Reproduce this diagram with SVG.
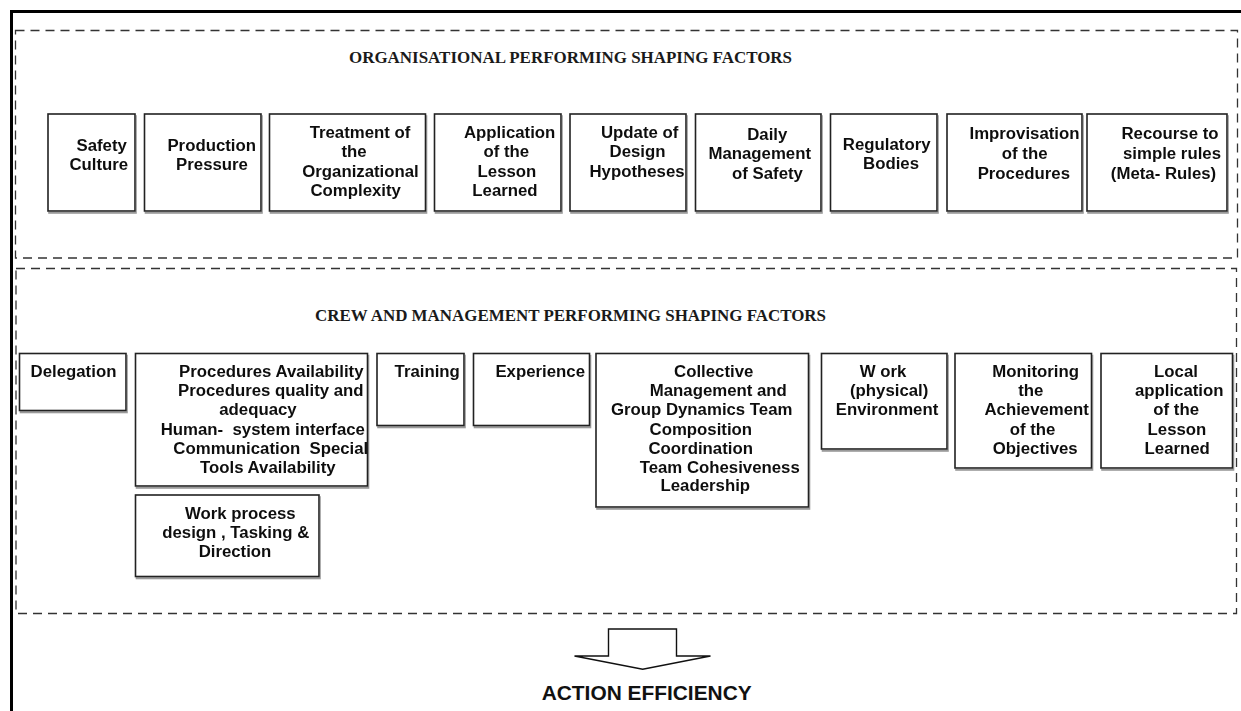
<svg xmlns="http://www.w3.org/2000/svg" width="1241" height="711" viewBox="0 0 1241 711">
<style>
.bg{fill:#fff}
.frame{fill:none;stroke:#000;stroke-width:3}
.dash{fill:none;stroke:#333;stroke-width:1.3;stroke-dasharray:9 6}
.box{fill:#fff;stroke:#222;stroke-width:1.6}
.t{font-family:"Liberation Sans",Arial,sans-serif;font-weight:bold;font-size:16.8px;fill:#111;text-anchor:middle}
.title{font-family:"Liberation Serif","Times New Roman",serif;font-weight:bold;font-size:17.5px;fill:#1a1a1a}
.out{font-family:"Liberation Sans",Arial,sans-serif;font-weight:bold;font-size:21px;fill:#111}
.arrow{fill:#fff;stroke:#111;stroke-width:1.4;stroke-linejoin:miter}
</style>
<defs>
<filter id="ds" x="-5%" y="-5%" width="110%" height="115%">
<feOffset dx="1" dy="2" in="SourceAlpha" result="o"/>
<feFlood flood-color="#9a9a9a"/>
<feComposite in2="o" operator="in" result="s"/>
<feMerge><feMergeNode in="s"/><feMergeNode in="SourceGraphic"/></feMerge>
</filter>
</defs>
<rect class="bg" x="0" y="0" width="1241" height="711"/>
<path class="frame" d="M11.5,711 V11.5 H1241"/>

<g id="org-group">
<rect class="dash" x="15.5" y="30.5" width="1222" height="227.5"/>
<text class="title" x="349" y="62.5" textLength="443" lengthAdjust="spacingAndGlyphs">ORGANISATIONAL PERFORMING SHAPING FACTORS</text>
</g>

<g id="crew-group">
<rect class="dash" x="16" y="268.5" width="1220.5" height="345"/>
<text class="title" x="315" y="321" textLength="511" lengthAdjust="spacingAndGlyphs">CREW AND MANAGEMENT PERFORMING SHAPING FACTORS</text>
</g>

<g id="n-safety" filter="url(#ds)">
<rect class="box" x="48" y="114" width="87" height="97"/>
<text class="t"><tspan x="101.7" y="150.7">Safety</tspan><tspan x="98.8" y="170">Culture</tspan></text>
</g>
<g id="n-production" filter="url(#ds)">
<rect class="box" x="144.5" y="114" width="116.5" height="97"/>
<text class="t"><tspan x="211.7" y="150.7">Production</tspan><tspan x="212" y="170">Pressure</tspan></text>
</g>
<g id="n-treatment" filter="url(#ds)">
<rect class="box" x="269.5" y="114" width="156" height="97"/>
<text class="t"><tspan x="360" y="137.7">Treatment of</tspan><tspan x="354" y="156.7">the</tspan><tspan x="360.5" y="176.7">Organizational</tspan><tspan x="355.7" y="196">Complexity</tspan></text>
</g>
<g id="n-application" filter="url(#ds)">
<rect class="box" x="434.5" y="114" width="126.5" height="97"/>
<text class="t"><tspan x="509.7" y="137.7">Application</tspan><tspan x="506.3" y="156.7">of the</tspan><tspan x="507" y="176.7">Lesson</tspan><tspan x="505" y="196">Learned</tspan></text>
</g>
<g id="n-update" filter="url(#ds)">
<rect class="box" x="570" y="114" width="116" height="97"/>
<text class="t"><tspan x="639.7" y="137.7">Update of</tspan><tspan x="637.5" y="156.7">Design</tspan><tspan x="637" y="176.7">Hypotheses</tspan></text>
</g>
<g id="n-daily" filter="url(#ds)">
<rect class="box" x="695.5" y="114" width="125.5" height="97"/>
<text class="t"><tspan x="767.3" y="140">Daily</tspan><tspan x="759.7" y="159.3">Management</tspan><tspan x="767.5" y="179.3">of Safety</tspan></text>
</g>
<g id="n-regulatory" filter="url(#ds)">
<rect class="box" x="830.5" y="114" width="106.5" height="97"/>
<text class="t"><tspan x="886.7" y="150">Regulatory</tspan><tspan x="891" y="169.3">Bodies</tspan></text>
</g>
<g id="n-improvisation" filter="url(#ds)">
<rect class="box" x="947" y="114" width="135" height="97"/>
<text class="t"><tspan x="1024.5" y="139.3">Improvisation</tspan><tspan x="1024.7" y="159.3">of the</tspan><tspan x="1023.8" y="179.3">Procedures</tspan></text>
</g>
<g id="n-recourse" filter="url(#ds)">
<rect class="box" x="1087" y="114" width="140" height="97"/>
<text class="t"><tspan x="1170" y="139.3">Recourse to</tspan><tspan x="1172" y="159.3">simple rules</tspan><tspan x="1163.5" y="179.3">(Meta- Rules)</tspan></text>
</g>

<g id="n-delegation" filter="url(#ds)">
<rect class="box" x="19.5" y="353.5" width="106.5" height="57"/>
<text class="t"><tspan x="73.5" y="376.7">Delegation</tspan></text>
</g>
<g id="n-procedures" filter="url(#ds)">
<rect class="box" x="135.5" y="353.5" width="232" height="132.5"/>
<text class="t" xml:space="preserve"><tspan x="271.3" y="376.7">Procedures Availability</tspan><tspan x="270.8" y="396">Procedures quality and</tspan><tspan x="258" y="415">adequacy</tspan><tspan x="262.8" y="435">Human-  system interface</tspan><tspan x="270.8" y="454">Communication  Special</tspan><tspan x="267.8" y="473.3">Tools Availability</tspan></text>
</g>
<g id="n-workprocess" filter="url(#ds)">
<rect class="box" x="135.5" y="495" width="183.5" height="81.5"/>
<text class="t"><tspan x="240.3" y="519">Work process</tspan><tspan x="235.8" y="538.3">design , Tasking &amp;</tspan><tspan x="235" y="557.3">Direction</tspan></text>
</g>
<g id="n-training" filter="url(#ds)">
<rect class="box" x="377" y="353.5" width="87" height="72"/>
<text class="t"><tspan x="427.2" y="376.7">Training</tspan></text>
</g>
<g id="n-experience" filter="url(#ds)">
<rect class="box" x="473.5" y="353.5" width="116" height="72"/>
<text class="t"><tspan x="540.2" y="376.7">Experience</tspan></text>
</g>
<g id="n-collective" filter="url(#ds)">
<rect class="box" x="596" y="353.5" width="212.5" height="153.5"/>
<text class="t"><tspan x="713.7" y="376.7">Collective</tspan><tspan x="718.3" y="396">Management and</tspan><tspan x="701.7" y="415">Group Dynamics Team</tspan><tspan x="700.8" y="435">Composition</tspan><tspan x="700.7" y="454">Coordination</tspan><tspan x="719.7" y="473.3">Team Cohesiveness</tspan><tspan x="705.3" y="490.7">Leadership</tspan></text>
</g>
<g id="n-work-env" filter="url(#ds)">
<rect class="box" x="821.5" y="353.5" width="125.5" height="95.5"/>
<text class="t"><tspan x="883" y="376.7">W ork</tspan><tspan x="889.2" y="396">(physical)</tspan><tspan x="887" y="415">Environment</tspan></text>
</g>
<g id="n-monitoring" filter="url(#ds)">
<rect class="box" x="955" y="353.5" width="136.5" height="114.5"/>
<text class="t"><tspan x="1035.7" y="376.7">Monitoring</tspan><tspan x="1030.8" y="396">the</tspan><tspan x="1036.7" y="415">Achievement</tspan><tspan x="1032.5" y="435">of the</tspan><tspan x="1035.2" y="454">Objectives</tspan></text>
</g>
<g id="n-local" filter="url(#ds)">
<rect class="box" x="1101" y="353.5" width="131.5" height="114.5"/>
<text class="t"><tspan x="1176" y="376.7">Local</tspan><tspan x="1179.2" y="396">application</tspan><tspan x="1176.2" y="415">of the</tspan><tspan x="1177" y="435">Lesson</tspan><tspan x="1177.2" y="454">Learned</tspan></text>
</g>

<g id="connectors">
<path class="arrow" d="M608.5,656 V629 H676.5 V656 H710.5 L642.7,669.3 L574.5,656 Z"/>
</g>

<g id="n-action">
<text class="out" x="541.7" y="700" textLength="210" lengthAdjust="spacingAndGlyphs">ACTION EFFICIENCY</text>
</g>
</svg>
